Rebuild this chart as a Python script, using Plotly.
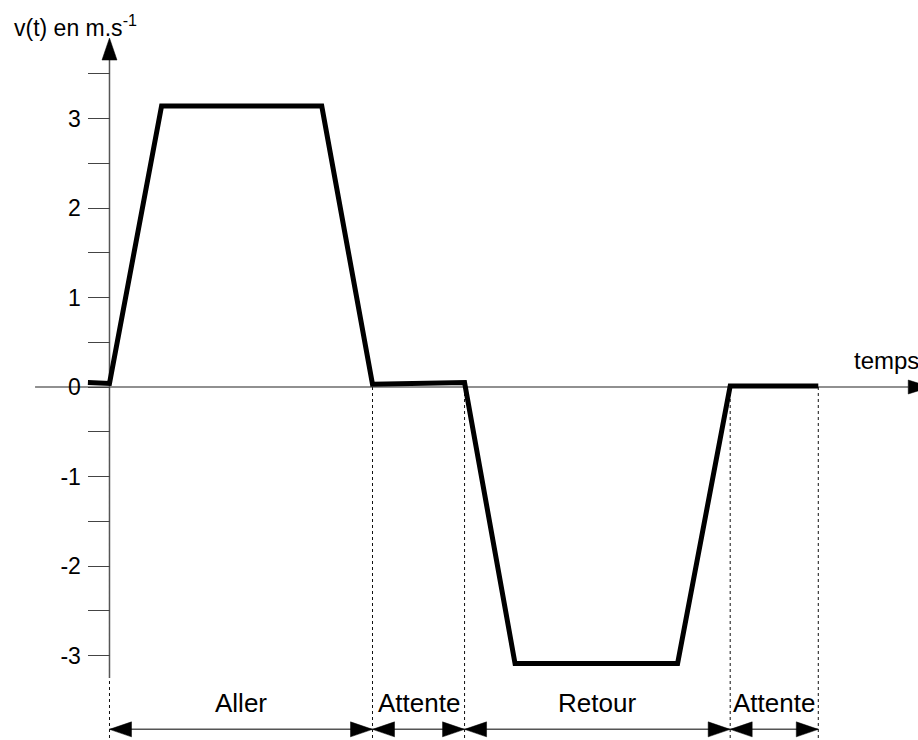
import plotly.graph_objects as go

# ---- data ----
t = [-0.82, 0.0, 1.98, 8.07, 10.0, 13.5, 15.42, 21.6, 23.6, 26.95]
v = [0.05, 0.04, 3.14, 3.14, 0.03, 0.05, -3.09, -3.09, 0.01, 0.01]

phase_bounds = [0.0, 10.0, 13.5, 23.6, 26.95]
phase_labels = ["Aller", "Attente", "Retour", "Attente"]

ytick_vals = [-3, -2, -1, 0, 1, 2, 3]
ytick_text = ["-3", "-2", "-1", "0", "1", "2", "3"]
yminor_vals = [-2.5, -1.5, -0.5, 0.5, 1.5, 2.5, 3.5]

title_text = "v(t) en m.s<sup>-1</sup>"
xlabel_text = "temps"

# ---- view / layout constants ----
W, H = 918, 740
T_MIN, T_MAX = -4.163, 30.741
V_MIN, V_MAX = -3.944, 4.324
X_AXIS_FROM, X_AXIS_TO = -2.83, 30.37
Y_AXIS_FROM, Y_AXIS_TO, Y_AXIS_TIP = -3.25, 3.654, 3.899
ARROW_LEVEL = -3.825
LABEL_LEVEL = -3.53
FONT = "Liberation Sans, Arial, sans-serif"

fig = go.Figure()
fig.add_trace(go.Scatter(x=t, y=v, mode="lines",
                         line=dict(color="black", width=5),
                         hoverinfo="skip", showlegend=False))

shapes = []

def tri(xa, ya, path):
    return dict(type="path", xref="x", yref="y", xsizemode="pixel", ysizemode="pixel",
                xanchor=xa, yanchor=ya, path=path, fillcolor="black",
                line=dict(color="black", width=0.5), layer="above")

# dashed vertical guides
for b in phase_bounds:
    shapes.append(dict(type="line", xref="x", yref="y", x0=b, x1=b, y0=0, y1=V_MIN,
                       line=dict(color="#111", width=1, dash="3px,3px"), layer="below"))

# x axis
shapes.append(dict(type="line", xref="x", yref="y", x0=X_AXIS_FROM, x1=X_AXIS_TO, y0=0, y1=0,
                   line=dict(color="#222", width=1.2), layer="below"))
shapes.append(tri(X_AXIS_TO, 0, "M 0,7 L 22,0 L 0,-7 Z"))

# y axis
shapes.append(dict(type="line", xref="x", yref="y", x0=0, x1=0, y0=Y_AXIS_FROM, y1=Y_AXIS_TO,
                   line=dict(color="#555", width=1.5), layer="below"))
shapes.append(tri(0, Y_AXIS_TIP, "M 0,0 L -7.5,-22 L 7.5,-22 Z"))

# double arrows for phases
annotations = []
for i, lab in enumerate(phase_labels):
    a, b = phase_bounds[i], phase_bounds[i + 1]
    shapes.append(dict(type="line", xref="x", yref="y", x0=a, x1=b, y0=ARROW_LEVEL, y1=ARROW_LEVEL,
                       line=dict(color="#555", width=1.5), layer="below"))
    shapes.append(tri(a, ARROW_LEVEL, "M 0,0 L 22,7.5 L 22,-7.5 Z"))
    shapes.append(tri(b, ARROW_LEVEL, "M 0,0 L -22,7.5 L -22,-7.5 Z"))
    annotations.append(dict(x=(a + b) / 2, y=LABEL_LEVEL, xref="x", yref="y", text=lab,
                            showarrow=False, xanchor="center", yanchor="middle",
                            font=dict(size=26, color="black", family=FONT)))

annotations.append(dict(x=12 / W, y=1 - 26 / H, xref="paper", yref="paper", text=title_text,
                        showarrow=False, xanchor="left", yanchor="middle",
                        font=dict(size=23, color="black", family=FONT)))
annotations.append(dict(x=28.22, y=0.30, xref="x", yref="y", text=xlabel_text,
                        showarrow=False, xanchor="left", yanchor="middle",
                        font=dict(size=24, color="black", family=FONT)))

fig.update_layout(
    width=W, height=H,
    margin=dict(l=0, r=0, t=0, b=0),
    paper_bgcolor="white", plot_bgcolor="white",
    showlegend=False,
    shapes=shapes, annotations=annotations,
    xaxis=dict(range=[T_MIN, T_MAX], visible=False, domain=[0, 1]),
    yaxis=dict(range=[V_MIN, V_MAX], anchor="free", position=109.5 / W,
               showgrid=False, zeroline=False, showline=False,
               ticks="outside", ticklen=22, tickwidth=1, tickcolor="#444",
               tickvals=ytick_vals, ticktext=ytick_text, ticklabelstandoff=2,
               tickfont=dict(size=23, color="black", family=FONT),
               minor=dict(tickvals=yminor_vals, ticks="outside", ticklen=22,
                          tickwidth=1, tickcolor="#444", showgrid=False)),
)

fig.write_html("out.html", config={"displayModeBar": False},
               post_script="document.body.style.margin='0';document.body.style.overflow='hidden';")
